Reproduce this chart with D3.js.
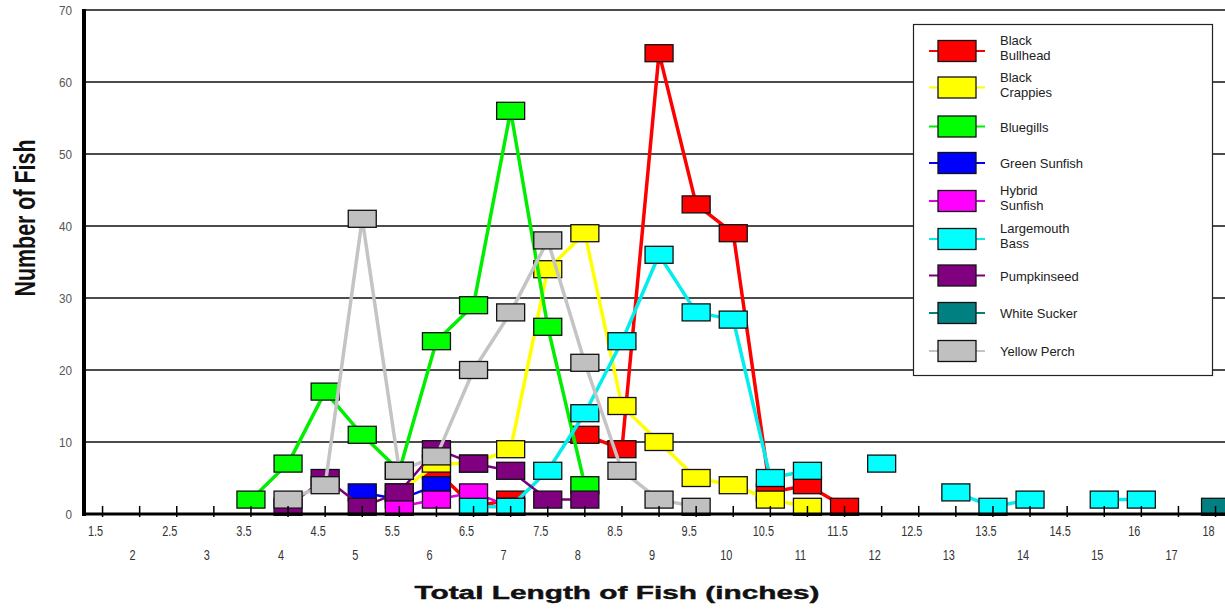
<!DOCTYPE html>
<html>
<head>
<meta charset="utf-8">
<script src="https://cdn.jsdelivr.net/npm/d3@7/dist/d3.min.js"></script>
<style>
  html, body { margin: 0; padding: 0; background: #fff; }
  svg { display: block; }
</style>
</head>
<body>
<svg id="chart" width="1225" height="610"></svg>
<script>
// ---------- DATA ----------
const categories = ["1.5","2","2.5","3","3.5","4","4.5","5","5.5","6","6.5","7","7.5","8","8.5","9","9.5","10","10.5","11","11.5","12","12.5","13","13.5","14","14.5","15","16","17","18"];
const yTicks = [0,10,20,30,40,50,60,70];
const seriesNames = ["Black Bullhead","Black Crappies","Bluegills","Green Sunfish","Hybrid Sunfish","Largemouth Bass","Pumpkinseed","White Sucker","Yellow Perch"];
const legendLabels = [["Black","Bullhead"],["Black","Crappies"],["Bluegills"],["Green Sunfish"],["Hybrid","Sunfish"],["Largemouth","Bass"],["Pumpkinseed"],["White Sucker"],["Yellow Perch"]];
const N = null;
//                     1.5 2  2.5 3  3.5 4  4.5 5  5.5 6  6.5 7  7.5 8  8.5 9  9.5 10 10.5 11 11.5 12 12.5 13 13.5 14 14.5 15 16 17 18
const blackBullhead  = [N, N, N, N, N, N, N, N, N, 6, 1, 2, N, 11, 9, 64, 43, 39, 3, 4, 1, N, N, N, N, N, N, N, N, N, N];
const blackCrappies  = [N, N, N, N, N, N, N, N, 3, 7, 7, 9, 34, 39, 15, 10, 5, 4, 2, 1, N, N, N, N, N, N, N, N, N, N, N];
const bluegills      = [N, N, N, N, 2, 7, 17, 11, 6, 24, 29, 56, 26, 4, N, N, N, N, N, N, N, N, N, N, N, N, N, N, N, N, N];
const greenSunfish   = [N, N, N, N, N, N, N, 3, 2, 4, N, N, N, N, N, N, N, N, N, N, N, N, N, N, N, N, N, N, N, N, N];
const hybridSunfish  = [N, N, N, N, N, N, N, N, 1, 2, 3, 1, N, N, N, N, N, N, N, N, N, N, N, N, N, N, N, N, N, N, N];
const largemouthBass = [N, N, N, N, N, N, N, N, N, N, 1, 1, 6, 14, 24, 36, 28, 27, 5, 6, N, 7, N, 3, 1, 2, N, 2, 2, N, N];
const pumpkinseed    = [N, N, N, N, N, 1, 5, 1, 3, 9, 7, 6, 2, 2, N, N, N, N, N, N, N, N, N, N, N, N, N, N, N, N, N];
const whiteSucker    = [N, N, N, N, N, N, N, N, N, N, N, N, N, N, N, N, N, N, N, N, N, N, N, N, N, N, N, N, N, N, 1];
const yellowPerch    = [N, N, N, N, N, 2, 4, 41, 6, 8, 20, 28, 38, 21, 6, 2, 1, N, N, N, N, N, N, N, N, N, N, N, N, N, N];
const seriesValues = [blackBullhead, blackCrappies, bluegills, greenSunfish, hybridSunfish, largemouthBass, pumpkinseed, whiteSucker, yellowPerch];

// ---------- STYLES ----------
const fillColors = ["#ff0000","#ffff00","#00ff00","#0000ff","#ff00ff","#00ffff","#800080","#008080","#c0c0c0"];
const lineColors = ["#ff0000","#ffff00","#00ee00","#0000ff","#e000e0","#00eeee","#7a007a","#008080","#c4c4c4"];
const lineWidths = [3.5,3.5,3.5,2.5,2.5,3.5,2.5,3,3.5];

// ---------- CHART ----------
const svg = d3.select("#chart");
const plotLeft = 84, plotBottom = 514, plotTop = 10;
const step = 37.1;
const x = d3.scalePoint().domain(categories).range([plotLeft, plotLeft + step * categories.length]).padding(0.5);
const y = d3.scaleLinear().domain([0, 70]).range([plotBottom, plotTop]);

// gridlines
svg.append("g").selectAll("line").data(yTicks.filter(d => d > 0)).join("line")
  .attr("x1", plotLeft).attr("x2", 1225)
  .attr("y1", d => y(d)).attr("y2", d => y(d))
  .attr("stroke", "#111").attr("stroke-width", 1.5);

// y labels
svg.append("g").selectAll("text").data(yTicks).join("text")
  .attr("transform", d => `translate(72,${y(d) + 4.5}) scale(0.9,1)`)
  .attr("text-anchor", "end")
  .attr("font-family", "Liberation Sans, Arial, sans-serif")
  .attr("font-size", 13).attr("fill", "#555")
  .text(d => d);

// legend box
const legend = svg.append("g");
legend.append("rect").attr("x", 913.5).attr("y", 24.5).attr("width", 299).attr("height", 351)
  .attr("fill", "#fff").attr("stroke", "#222").attr("stroke-width", 1.2);

// series
const lineGen = d3.line().defined(d => d.v !== null).x(d => x(d.c)).y(d => y(d.v));
const mW = 28, mH = 17;
seriesValues.forEach((vals, i) => {
  const pts = categories.map((c, j) => ({c, v: vals[j]}));
  const g = svg.append("g");
  g.append("path").datum(pts).attr("d", lineGen)
    .attr("fill", "none").attr("stroke", lineColors[i]).attr("stroke-width", lineWidths[i])
    .attr("stroke-linejoin", "round");
  g.selectAll("rect").data(pts.filter(d => d.v !== null)).join("rect")
    .attr("x", d => x(d.c) - mW / 2).attr("y", d => y(d.v) - mH / 2)
    .attr("width", mW).attr("height", mH)
    .attr("fill", fillColors[i]).attr("stroke", "#111").attr("stroke-width", 1.3);
});

// axes lines
svg.append("line").attr("x1", plotLeft).attr("x2", plotLeft).attr("y1", plotTop - 1).attr("y2", plotBottom + 2)
  .attr("stroke", "#000").attr("stroke-width", 4);
svg.append("line").attr("x1", plotLeft).attr("x2", 1225).attr("y1", plotBottom).attr("y2", plotBottom)
  .attr("stroke", "#000").attr("stroke-width", 3);

// x ticks
svg.append("g").selectAll("line").data(categories).join("line")
  .attr("x1", d => x(d)).attr("x2", d => x(d))
  .attr("y1", plotBottom - 8).attr("y2", plotBottom + 3)
  .attr("stroke", "#000").attr("stroke-width", 1.5);

// x labels (two alternating rows), condensed look
svg.append("g").selectAll("text").data(categories).join("text")
  .attr("transform", (d, i) => {
    const row = (i % 2 === 0 || (i >= 28 && i !== 29)) ? 536 : 560;
    return `translate(${x(d) - 7},${row}) scale(0.78,1.08)`;
  })
  .attr("text-anchor", "middle")
  .attr("font-family", "Liberation Sans, Arial, sans-serif")
  .attr("font-size", 14).attr("fill", "#333")
  .text(d => d);

// axis titles
svg.append("text")
  .attr("transform", "translate(35,218) rotate(-90)")
  .attr("text-anchor", "middle")
  .attr("font-family", "Liberation Sans, Arial, sans-serif")
  .attr("font-size", 30).attr("font-weight", "bold").attr("fill", "#111")
  .attr("textLength", 157).attr("lengthAdjust", "spacingAndGlyphs")
  .text("Number of Fish");

svg.append("text")
  .attr("x", 617).attr("y", 599)
  .attr("text-anchor", "middle")
  .attr("font-family", "Liberation Sans, Arial, sans-serif")
  .attr("font-size", 18).attr("font-weight", "bold").attr("fill", "#111")
  .attr("stroke", "#111").attr("stroke-width", 0.4)
  .attr("textLength", 405).attr("lengthAdjust", "spacingAndGlyphs")
  .text("Total Length of Fish (inches)");

// legend entries
const rowY = [51, 87.5, 126.5, 163, 201, 239, 275.5, 313, 351];
seriesNames.forEach((name, i) => {
  const cy = rowY[i];
  legend.append("line").attr("x1", 929).attr("x2", 985).attr("y1", cy).attr("y2", cy)
    .attr("stroke", lineColors[i]).attr("stroke-width", 2);
  legend.append("rect").attr("x", 938).attr("y", cy - 10.5).attr("width", 38).attr("height", 21)
    .attr("fill", fillColors[i]).attr("stroke", "#111").attr("stroke-width", 1.3);
  const lines = legendLabels[i];
  lines.forEach((t, k) => {
    const ty = lines.length === 1 ? cy + 5 : cy - 6 + k * 15;
    legend.append("text").attr("x", 1000).attr("y", ty)
      .attr("font-family", "Liberation Sans, Arial, sans-serif")
      .attr("font-size", 13).attr("fill", "#222").text(t);
  });
});
</script>
</body>
</html>
